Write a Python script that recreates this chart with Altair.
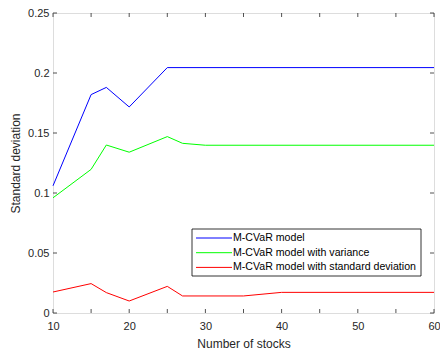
import altair as alt
import pandas as pd

# Series definitions
series_names = [
    "M-CVaR model",
    "M-CVaR model with variance",
    "M-CVaR model with standard deviation",
]
series_colors = ["#0000FF", "#00FF00", "#FF0000"]

# Standard deviation of each model against the number of stocks
stocks_cvar = [10, 15, 17, 20, 25, 60]
sd_cvar = [0.106, 0.182, 0.188, 0.1717, 0.2045, 0.2045]

stocks_var = [10, 15, 17, 20, 25, 27, 30, 60]
sd_var = [0.096, 0.1197, 0.140, 0.134, 0.147, 0.1414, 0.1398, 0.1398]

stocks_std = [10, 15, 17, 20, 25, 27, 35, 40, 60]
sd_std = [0.0175, 0.0245, 0.017, 0.010, 0.0222, 0.0142, 0.0142, 0.0172, 0.0172]

x_ticks = [10, 15, 20, 25, 30, 35, 40, 45, 50, 55, 60]
y_ticks = [0, 0.05, 0.1, 0.15, 0.2, 0.25]

rows = []
for name, xs, ys in zip(series_names,
                        [stocks_cvar, stocks_var, stocks_std],
                        [sd_cvar, sd_var, sd_std]):
    for xv, yv in zip(xs, ys):
        rows.append({"series": name, "stocks": xv, "sd": yv})
df = pd.DataFrame(rows)

W, H = 381, 300
FONT = "Liberation Sans"
INK = "#262626"

x_scale = alt.Scale(domain=[10, 60], nice=False, zero=False)
y_scale = alt.Scale(domain=[0, 0.25], nice=False)

x_axis = alt.Axis(values=x_ticks, title="Number of stocks", grid=False, domain=False,
                  ticks=False, labelFlush=False, labelPadding=7, labelFontSize=11,
                  labelFont=FONT, labelColor=INK, titleFont=FONT, titleFontSize=12,
                  titleFontWeight="normal", titleColor=INK, titleY=30,
                  titleBaseline="middle")
y_axis = alt.Axis(values=y_ticks, title="Standard deviation", grid=False, domain=False,
                  ticks=False, format="~g", labelPadding=4, labelFontSize=11, labelFont=FONT,
                  labelColor=INK, titleFont=FONT, titleFontSize=12, titleFontWeight="normal",
                  titleColor=INK, titleX=-38, titleBaseline="middle")

lines = alt.Chart(df).mark_line(strokeWidth=1).encode(
    x=alt.X("stocks:Q", scale=x_scale, axis=x_axis),
    y=alt.Y("sd:Q", scale=y_scale, axis=y_axis),
    color=alt.Color("series:N", scale=alt.Scale(domain=series_names, range=series_colors),
                    legend=None),
)

# Inward tick marks on all four sides of the box
xt = pd.DataFrame({"stocks": x_ticks})
yt = pd.DataFrame({"sd": y_ticks})
tick_style = dict(color=INK, strokeWidth=0.8)
ticks_bottom = alt.Chart(xt).mark_rule(**tick_style).encode(
    x=alt.X("stocks:Q", scale=x_scale), y=alt.value(H), y2=alt.value(H - 4))
ticks_top = alt.Chart(xt).mark_rule(**tick_style).encode(
    x=alt.X("stocks:Q", scale=x_scale), y=alt.value(0), y2=alt.value(4))
ticks_left = alt.Chart(yt).mark_rule(**tick_style).encode(
    y=alt.Y("sd:Q", scale=y_scale), x=alt.value(0), x2=alt.value(4))
ticks_right = alt.Chart(yt).mark_rule(**tick_style).encode(
    y=alt.Y("sd:Q", scale=y_scale), x=alt.value(W), x2=alt.value(W - 4))

# Legend box
one = pd.DataFrame({"k": [0]})
lx0, lx1, ly0, ly1 = 139, 368, 216, 263
legend_box = alt.Chart(one).mark_rect(fill="white", stroke="black", strokeWidth=0.8).encode(
    x=alt.value(lx0), x2=alt.value(lx1), y=alt.value(ly0), y2=alt.value(ly1))

legend_layers = []
for i, (name, col) in enumerate(zip(series_names, series_colors)):
    yy = 225 + i * 14.7
    legend_layers.append(
        alt.Chart(one).mark_rule(color=col, strokeWidth=1).encode(
            x=alt.value(143), x2=alt.value(179), y=alt.value(yy)))
    legend_layers.append(
        alt.Chart(one).mark_text(text=name, align="left", baseline="middle",
                                 font=FONT, fontSize=10.6, color="black").encode(
            x=alt.value(180), y=alt.value(yy)))

chart = alt.layer(
    lines, ticks_bottom, ticks_top, ticks_left, ticks_right, legend_box, *legend_layers
).properties(
    width=W, height=H,
    autosize=alt.AutoSizeParams(type="none"),
    padding={"left": 53, "top": 13, "right": 6, "bottom": 42},
).configure_view(
    stroke=INK, strokeWidth=1
).configure(background="white")

chart.save("out.html", embed_options={"renderer": "svg", "actions": False})
